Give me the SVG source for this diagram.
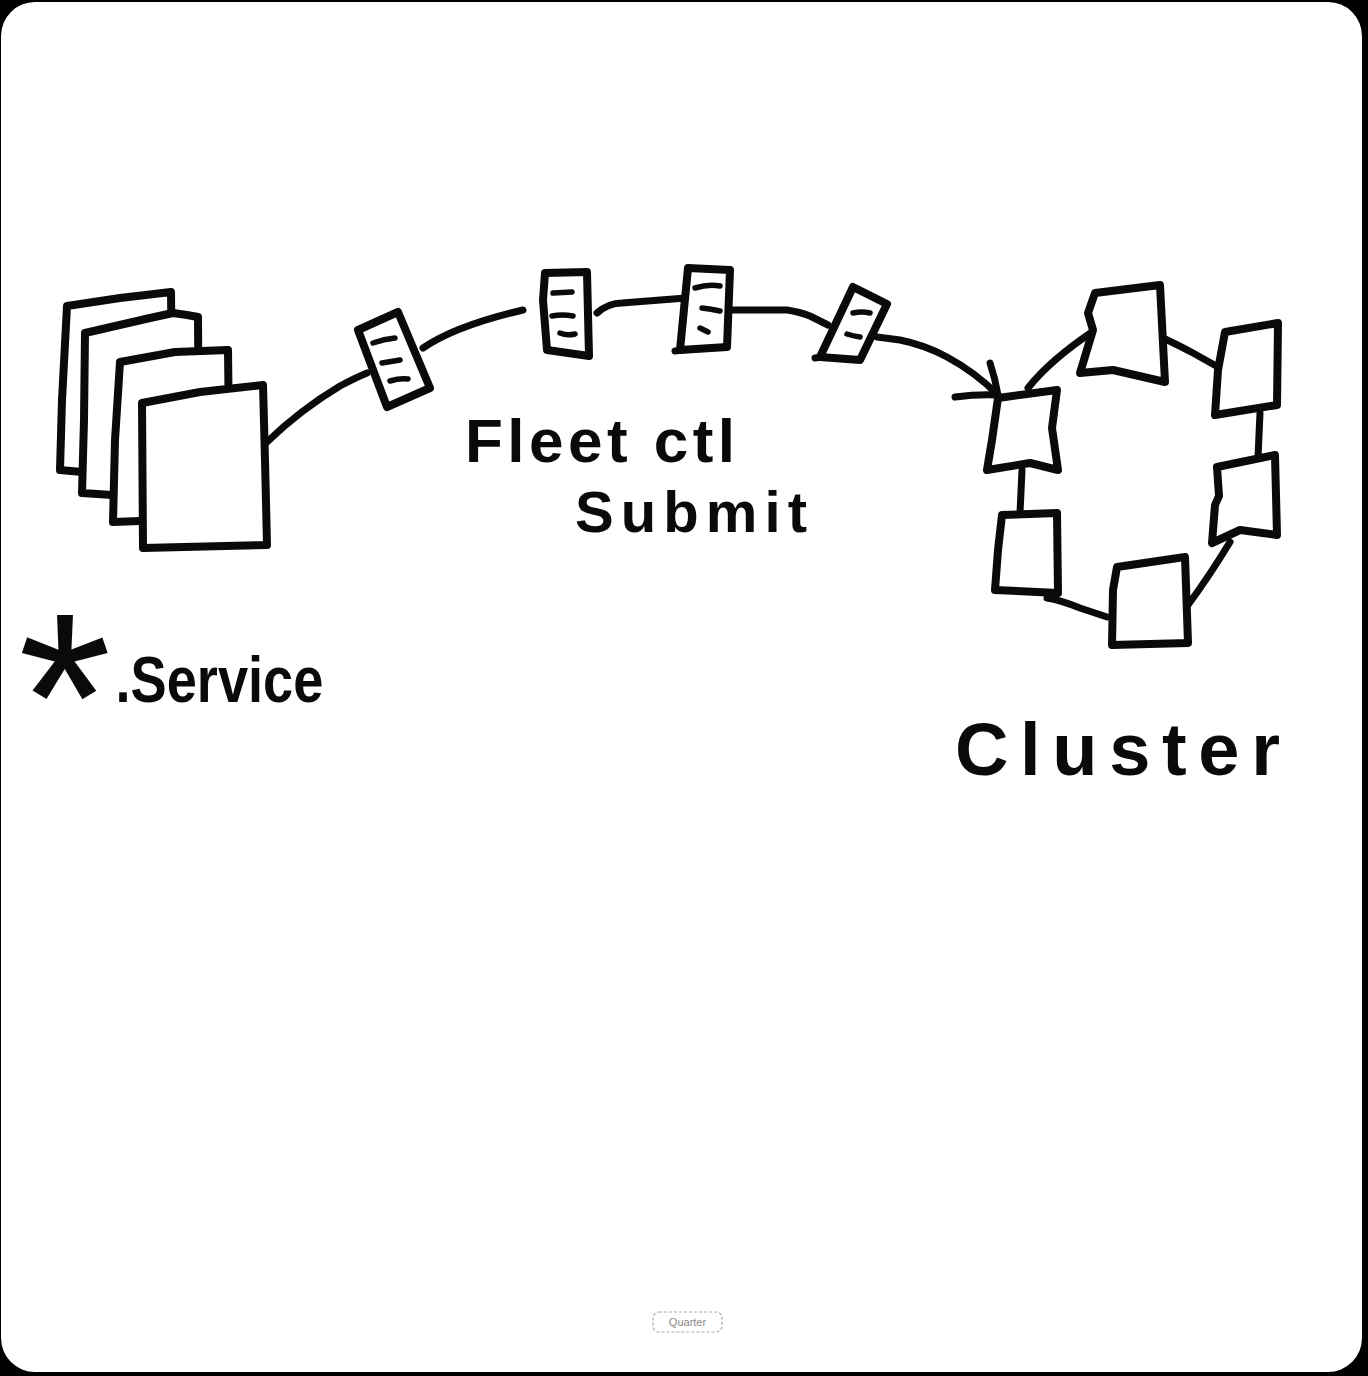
<svg xmlns="http://www.w3.org/2000/svg" width="1368" height="1376" viewBox="0 0 1368 1376">
<style>
.ink{fill:#fff;stroke:#0a0a0a;stroke-width:8;stroke-linejoin:round;stroke-linecap:round}
.line{fill:none;stroke:#0a0a0a;stroke-width:7;stroke-linejoin:round;stroke-linecap:round}
.dash{fill:none;stroke:#0a0a0a;stroke-width:5.5;stroke-linecap:round}
.lbl{font-family:"Liberation Sans",Arial,sans-serif;font-weight:bold;fill:#0a0a0a}
</style>
<rect x="0" y="0" width="1368" height="1376" fill="#000"/>
<rect x="1" y="2" width="1361" height="1370" rx="34" ry="34" fill="#fff"/>

<g id="connectors">
<path class="line" d="M267,442 Q300,410 340,386 Q355,378 367,373"/>
<path class="line" d="M423,348 C445,333 480,320 523,310"/>
<path class="line" d="M597,313 C605,306 612,303 622,303 L686,298"/>
<path class="line" d="M730,310 L787,310 Q800,312 810,316 L828,325"/>
<path class="line" d="M877,337 L900,340 Q925,345 947,357 Q975,372 998,395"/>
<path class="line" d="M990,363 Q995,378 998,395 M955,397 Q978,394 998,395"/>
<path class="line" d="M1028,388 Q1050,360 1095,330"/>
<path class="line" d="M1163,338 Q1180,346 1193,353 L1218,367"/>
<path class="line" d="M1260,413 L1258,457"/>
<path class="line" d="M1230,542 Q1210,575 1188,605"/>
<path class="line" d="M1107,617 L1080,608 Q1060,600 1047,598"/>
<path class="line" d="M1022,470 L1020,513"/>
</g>

<g id="service-files">
<path class="ink" d="M67,306 L120,298 L171,292 L173,470 L82,472 L60,470 L62,400 Z"/>
<path class="ink" d="M85,333 L150,318 L173,313 L187,315 L198,317 L199,490 L112,495 L82,493 L84,420 Z"/>
<path class="ink" d="M120,362 L175,352 L228,350 L230,520 L140,521 L113,522 L115,440 Z"/>
<path class="ink" d="M142,403 L200,392 L263,385 L265,460 L267,545 L143,548 Z"/>
</g>

<g id="unit-1">
<path class="ink" d="M358,330 L398,312 L430,388 L387,407 Z"/>
<path class="dash" d="M373,343 Q384,339 395,338 M382,363 L400,360 M390,381 Q400,378 408,379"/>
</g>
<g id="unit-2">
<path class="ink" d="M545,273 L587,272 L589,356 L547,350 L543,300 Z"/>
<path class="dash" d="M553,293 L572,292 M552,316 Q562,314 573,316 M560,333 Q567,336 575,334"/>
</g>
<g id="unit-3">
<path class="ink" d="M688,268 L730,270 L727,347 L680,350 Z"/>
<path class="line" d="M675,351 L682,350"/>
<path class="dash" d="M695,288 Q708,284 720,286 M702,308 Q711,309 720,311 M700,328 L708,332"/>
</g>
<g id="unit-4">
<path class="ink" d="M853,287 L887,304 L860,360 L820,357 Z"/>
<path class="line" d="M815,358 L822,357"/>
<path class="dash" d="M853,313 Q862,311 870,313 M847,334 Q853,336 860,337"/>
</g>

<g id="cluster-node-1"><path class="ink" d="M998,398 L1057,390 L1052,428 L1058,470 L1030,463 L987,470 L992,440 Z"/></g>
<g id="cluster-node-2"><path class="ink" d="M1095,293 L1160,285 L1165,382 L1113,370 L1080,373 L1093,330 L1088,313 Z"/></g>
<g id="cluster-node-3"><path class="ink" d="M1225,332 L1278,323 L1277,405 L1215,415 L1218,370 Z"/></g>
<g id="cluster-node-4"><path class="ink" d="M1217,467 L1275,455 L1277,535 L1240,530 L1212,543 L1215,505 L1219,496 Z"/></g>
<g id="cluster-node-5"><path class="ink" d="M1117,567 L1185,557 L1188,643 L1112,645 L1113,590 Z"/></g>
<g id="cluster-node-6"><path class="ink" d="M1002,515 L1057,513 L1058,593 L995,590 L998,550 Z"/></g>

<g id="labels">
<text class="lbl" x="465" y="462" font-size="62" textLength="270" lengthAdjust="spacing">Fleet ctl</text>
<text class="lbl" x="575" y="532" font-size="58" textLength="232" lengthAdjust="spacing">Submit</text>
<text class="lbl" x="18" y="780"><tspan font-size="240" font-weight="normal">*</tspan><tspan font-size="64" dy="-78" dx="4" textLength="208" lengthAdjust="spacingAndGlyphs">.Service</tspan></text>
<text class="lbl" x="955" y="775" font-size="74" textLength="325" lengthAdjust="spacing">Cluster</text>
</g>

<g id="stamp">
<rect x="653" y="1312" width="69" height="20" rx="6" fill="none" stroke="#aaa" stroke-width="1.2" stroke-dasharray="3 2"/>
<text x="687.5" y="1326" font-family="'Liberation Sans',Arial,sans-serif" font-size="11" fill="#888" text-anchor="middle">Quarter</text>
</g>
</svg>
